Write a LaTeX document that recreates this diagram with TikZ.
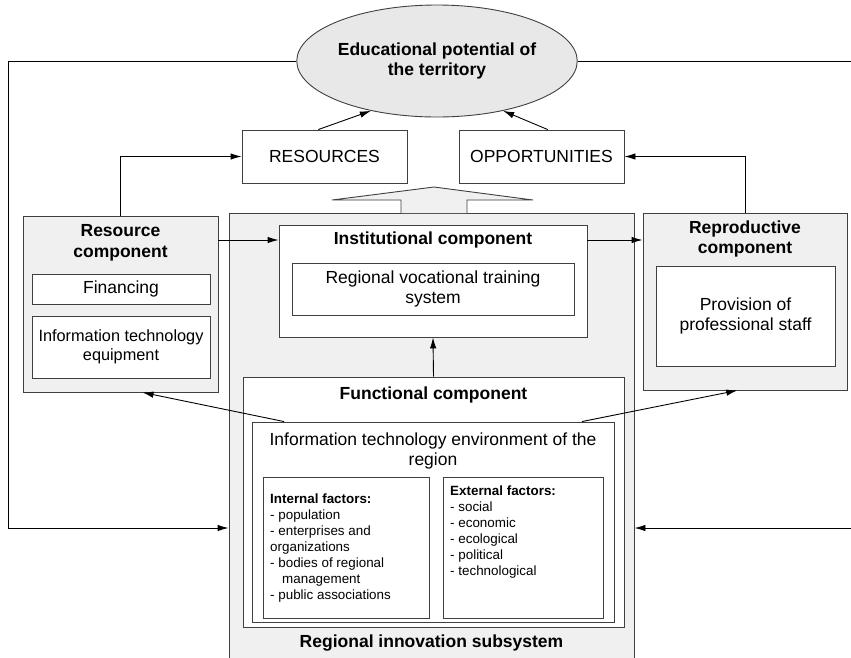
\documentclass[tikz,border=0pt]{standalone}
\usepackage{fontspec}
\setmainfont{Liberation Sans}
\usepackage{tikz}
\usetikzlibrary{arrows.meta,shapes.geometric}
\definecolor{panel}{HTML}{F0F0F0}
\definecolor{oval}{HTML}{E8E8E8}
\definecolor{edge}{HTML}{404040}
\newcommand{\mainsize}{\fontsize{17.5}{20.5}\selectfont}
\newcommand{\smallsize}{\fontsize{13.4}{16}\selectfont}

\begin{document}
\begin{tikzpicture}[x=1pt, y=-1pt,
  box/.style={draw=edge, line width=0.9pt, fill=white, inner sep=0pt, align=center, font=\mainsize},
  panelbox/.style={box, fill=panel},
  head/.style={font=\mainsize\bfseries, align=center, inner sep=0pt},
  plain/.style={font=\mainsize, align=center, inner sep=0pt},
  list/.style={font=\smallsize, align=left, anchor=north west, inner sep=0pt},
  arrow/.style={-{Latex[length=11pt,width=6.5pt]}, line width=0.9pt}
]
\useasboundingbox (0,0) rectangle (851,657);
\node[panelbox, minimum width=405pt, minimum height=452pt] (ris) at (431.5,439) {};
\draw[draw=edge, fill=panel, line width=0.9pt] (401,213) -- (401,200) -- (332,200) -- (434,187) -- (533,200) -- (467,200) -- (467,213);
\node[ellipse, draw=edge, fill=oval, line width=0.9pt, minimum width=246pt, minimum height=112pt, inner sep=0pt, font=\mainsize\bfseries, align=center] (epot) at (437,61) {Educational potential of\\the territory};
\node[box, minimum width=165pt, minimum height=53pt] (res) at (324.5,156.5) {RESOURCES};
\node[box, minimum width=165pt, minimum height=53pt] (opp) at (541.5,156.5) {OPPORTUNITIES};
\node[panelbox, minimum width=195pt, minimum height=176pt] (rc) at (120.5,304) {};
\node[head] (rct) at (120.5,243) {Resource\\component};
\node[box, minimum width=178pt, minimum height=30pt] (fin) at (121,289) {Financing};
\node[box, minimum width=178pt, minimum height=62pt, font=\fontsize{16.3}{19.5}\selectfont] (iteq) at (121,347) {Information technology\\equipment};
\node[box, minimum width=308pt, minimum height=112pt] (inst) at (433,281) {};
\node[head] (instt) at (433,240) {Institutional component};
\node[box, minimum width=282pt, minimum height=52pt] (rvts) at (433,289) {Regional vocational training\\system};
\node[panelbox, minimum width=204pt, minimum height=177pt] (repc) at (745,301.5) {};
\node[head] (repct) at (745,239) {Reproductive\\component};
\node[box, minimum width=179pt, minimum height=100pt] (prov) at (745.5,316) {Provision of\\professional staff};
\node[box, minimum width=381pt, minimum height=250pt] (func) at (433.5,502) {};
\node[head] (funct) at (433.5,395) {Functional component};
\node[box, minimum width=362pt, minimum height=200pt] (itenv) at (433,522) {};
\node[plain] (itenvt) at (433,451) {Information technology environment of the\\region};
\node[box, minimum width=166pt, minimum height=141pt] (intf) at (346,547.5) {};
\node[box, minimum width=160pt, minimum height=141pt] (extf) at (523,547.5) {};
\node[list] (intl) at (270,494) {\textbf{Internal factors:}\\- population\\- enterprises and\\organizations\\- bodies of regional\\\hspace*{12pt}management\\- public associations};
\node[list] (extl) at (450,486) {\textbf{External factors:}\\- social\\- economic\\- ecological\\- political\\- technological};
\node[head] (rist) at (431.5,643) {Regional innovation subsystem};
\coordinate (lt) at (8,61);
\coordinate (lb) at (8,528);
\coordinate (rt) at (853,61);
\coordinate (rb) at (853,528);
\draw[arrow] (res.103) -- (epot.217);
\draw[arrow] (opp.77) -- (epot.323);
\draw[arrow] (rc.north) |- (res.west);
\draw[arrow] (repc.north) |- (opp.east);
\draw[arrow] (rc.east |- instt) -- (inst.west |- instt);
\draw[arrow] (inst.east |- instt) -- (repc.west |- instt);
\draw[arrow] (func.north) -- (inst.south);
\draw[arrow] (itenv.146) -- (rc.284);
\draw[arrow] (itenv.34) -- (repc.265);
\draw[arrow] (epot.west) -- (lt) -- (lb) -- (ris.west |- lb);
\draw[arrow] (epot.east) -- (rt) -- (rb) -- (ris.east |- rb);
\end{tikzpicture}
\end{document}
